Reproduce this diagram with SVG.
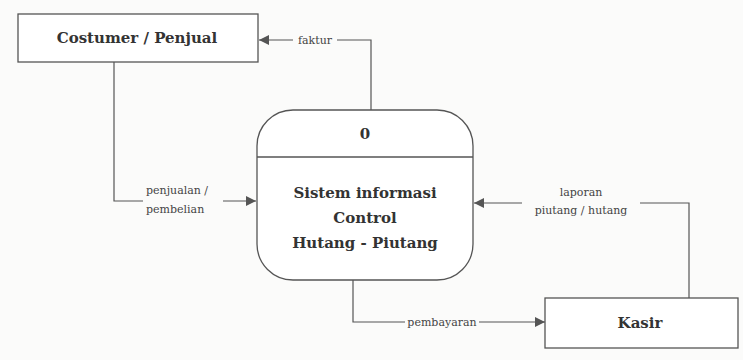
<svg xmlns="http://www.w3.org/2000/svg" width="743" height="360" viewBox="0 0 743 360">
  <style>
    .box { fill: #fff; stroke: #555; stroke-width: 1.3; }
    .node-label { font-family: "DejaVu Serif", "Liberation Serif", serif; font-weight: bold; font-size: 15px; fill: #333; text-anchor: middle; }
    .flow { fill: none; stroke: #555; stroke-width: 1.2; }
    .flow-label { font-family: "DejaVu Serif", "Liberation Serif", serif; font-size: 11px; fill: #444; }
    .label-bg { fill: #fbfbfa; }
  </style>
  <defs>
    <marker id="arrow" viewBox="0 0 10 10" refX="10" refY="5" markerWidth="10" markerHeight="10" markerUnits="userSpaceOnUse" orient="auto">
      <path d="M0,0 L10,5 L0,10 Z" fill="#555"/>
    </marker>
  </defs>
  <rect x="0" y="0" width="743" height="360" fill="#fbfbfa"/>

  <g id="flows">
    <!-- faktur: process -> customer -->
    <path class="flow" d="M371,110 V40 H259" marker-end="url(#arrow)"/>
    <rect class="label-bg" x="293" y="33" width="44" height="14"/>
    <text class="flow-label" x="315" y="44" text-anchor="middle">faktur</text>

    <!-- penjualan / pembelian: customer -> process -->
    <path class="flow" d="M114,62 V201 H256" marker-end="url(#arrow)"/>
    <rect class="label-bg" x="143" y="185" width="80" height="28"/>
    <text class="flow-label" x="146" y="194">penjualan /</text>
    <text class="flow-label" x="146" y="213">pembelian</text>

    <!-- laporan piutang / hutang: kasir -> process -->
    <path class="flow" d="M689,298 V203 H474" marker-end="url(#arrow)"/>
    <rect class="label-bg" x="522" y="186" width="118" height="30"/>
    <text class="flow-label" x="581" y="196" text-anchor="middle">laporan</text>
    <text class="flow-label" x="581" y="214" text-anchor="middle">piutang / hutang</text>

    <!-- pembayaran: process -> kasir -->
    <path class="flow" d="M353,280 V322 H545" marker-end="url(#arrow)"/>
    <rect class="label-bg" x="405" y="315" width="74" height="14"/>
    <text class="flow-label" x="442" y="326" text-anchor="middle">pembayaran</text>
  </g>

  <g id="customer">
    <rect class="box" x="18" y="14" width="240" height="48"/>
    <text class="node-label" x="137" y="43">Costumer / Penjual</text>
  </g>

  <g id="process-0">
    <rect class="box" x="257" y="110" width="216" height="170" rx="36" ry="36"/>
    <line x1="257" y1="157" x2="473" y2="157" stroke="#555" stroke-width="1.3"/>
    <text class="node-label" x="365" y="139">0</text>
    <text class="node-label" x="365" y="198">Sistem informasi</text>
    <text class="node-label" x="365" y="223">Control</text>
    <text class="node-label" x="365" y="248">Hutang - Piutang</text>
  </g>

  <g id="kasir">
    <rect class="box" x="545" y="298" width="193" height="50"/>
    <text class="node-label" x="640" y="328">Kasir</text>
  </g>
</svg>
